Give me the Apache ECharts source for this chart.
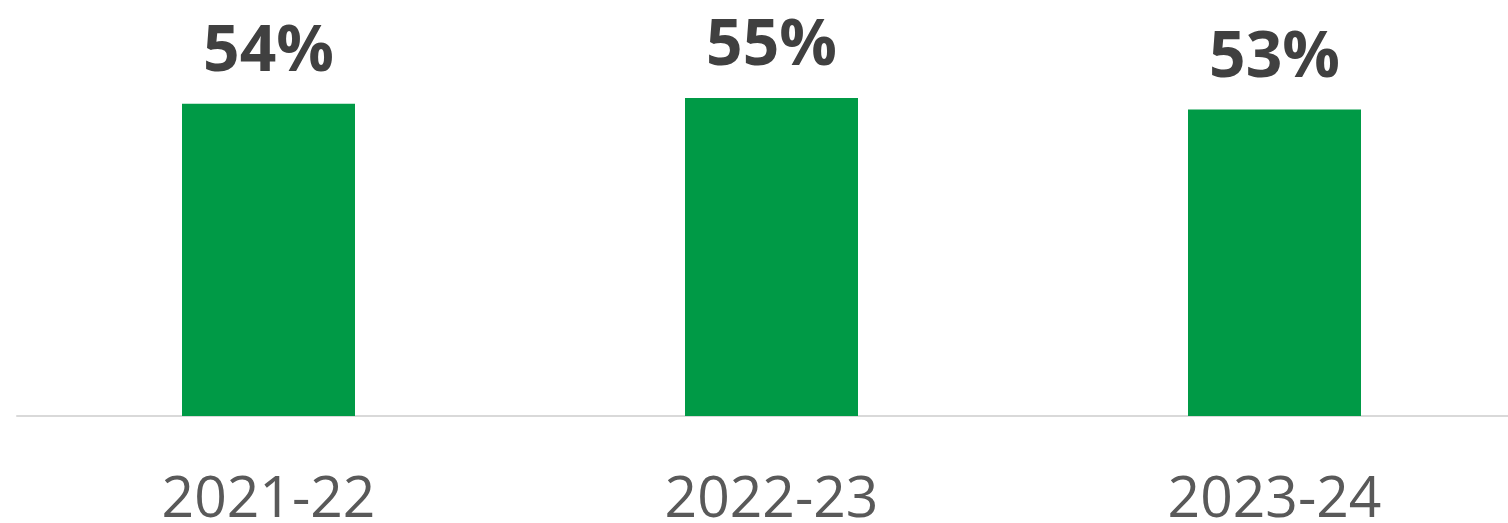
<!DOCTYPE html>
<html>
<head>
<meta charset="utf-8">
<script src="https://cdn.jsdelivr.net/npm/echarts@6/dist/echarts.min.js"></script>
<style>
html,body{margin:0;padding:0;background:#fff;}
#chart{width:1508px;height:523px;}
</style>
</head>
<body>
<div id="chart"></div>
<script>
const categories = ['2021-22', '2022-23', '2023-24'];
const values = [54, 55, 53];

const chart = echarts.init(document.getElementById('chart'), null, {renderer: 'canvas'});
chart.setOption({
  animation: false,
  backgroundColor: '#ffffff',
  grid: {left: 17, right: -18, top: 69, bottom: 107, containLabel: false, outerBoundsMode: 'none'},
  xAxis: {
    type: 'category',
    data: categories,
    axisLine: {show: true, lineStyle: {color: '#d9d9d9', width: 2}},
    axisTick: {show: false},
    axisLabel: {
      margin: 56,
      fontFamily: 'Open Sans',
      fontSize: 57,
      lineHeight: 57,
      color: '#595959'
    }
  },
  yAxis: {
    type: 'value',
    min: 0,
    max: 60,
    show: false,
    splitLine: {show: false}
  },
  series: [{
    type: 'bar',
    data: values,
    barWidth: 173,
    itemStyle: {color: '#009A46'},
    label: {
      show: true,
      position: 'top',
      distance: 19,
      formatter: '{c}%',
      fontFamily: 'Open Sans',
      fontWeight: 'bold',
      fontSize: 64,
      lineHeight: 64,
      color: '#404040'
    }
  }]
});
</script>
</body>
</html>
